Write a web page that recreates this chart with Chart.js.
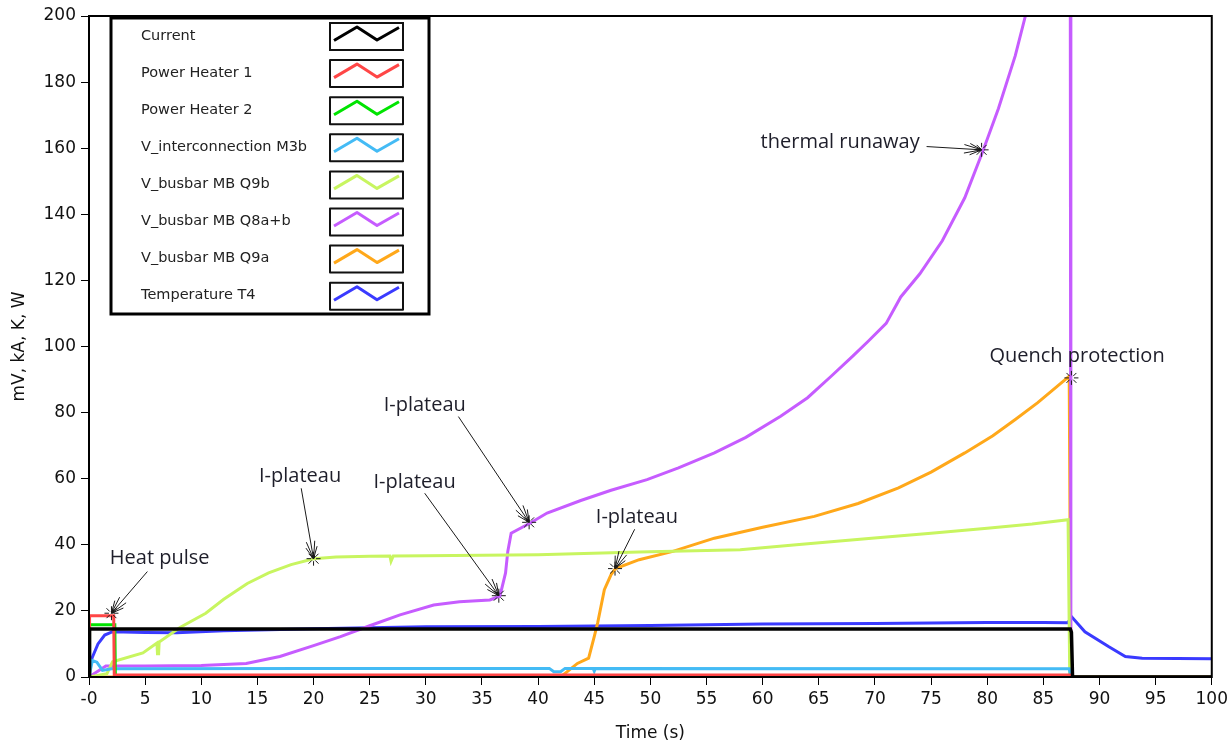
<!DOCTYPE html>
<html lang="en">
<head>
<meta charset="UTF-8">
<title>Busbar quench test</title>
<script src="https://cdn.jsdelivr.net/npm/chart.js@4"></script>
<style>
  body { margin: 0; background: #fff; }
  #wrap { width: 1232px; height: 745px; }
</style>
</head>
<body>
<div id="wrap"><canvas id="quenchChart" width="1232" height="745"></canvas></div>
<script>
// time (s) / value pairs for each channel
const curT = [0, 0.05, 87.4, 87.5, 87.6, 100];
const curV = [0, 14.5, 14.5, 13.5, 0, 0];

const h1T = [0, 0.05, 2.2, 2.25, 87.4, 87.5, 100];
const h1V = [0, 18.5, 18.5, 0.6, 0.6, 0, 0];

const h2T = [0, 0.05, 2.3, 2.35, 100];
const h2V = [0, 15.8, 15.8, 0, 0];

const icT = [0, 0.3, 0.7, 1.2, 2, 20, 41, 41.4, 42, 42.4, 44.9, 45, 45.1, 87.3, 87.45, 100];
const icV = [0, 5, 4.5, 2, 2.5, 2.6, 2.6, 1.6, 1.6, 2.6, 2.6, 1.8, 2.6, 2.5, 0, 0];

const q9bT = [0, 1.6, 2.1, 4.8, 6.05, 6.1, 6.2, 6.25, 8.1, 10.4, 12, 14.1, 16, 18, 20, 22, 25, 26.8, 26.9, 27.1, 30, 40, 49, 58, 63, 69.7, 75, 80, 84, 87.2, 87.35, 100];
const q9bV = [0, 1, 4.6, 7.3, 10.3, 7, 7, 10.6, 15, 19.3, 23.5, 28.3, 31.5, 34, 35.8, 36.3, 36.5, 36.6, 35, 36.6, 36.7, 37, 37.8, 38.5, 40, 42, 43.5, 45, 46.3, 47.6, 0, 0];

// goes off scale above 200 between ~83 s and the protection trigger
const q8T = [0, 1.5, 5, 10, 14, 17, 20, 22.4, 25, 27.7, 30.7, 33, 35.7, 36.6, 37.1, 37.3, 37.6, 39.3, 40.8, 43.8, 46.5, 49.7, 52.5, 55.7, 58.5, 61.6, 64, 66.1, 68, 69.4, 71, 72.3, 74, 76, 78, 79.6, 81, 82.5, 83.4, 85.4, 87.4, 87.45, 100];
const q8V = [0, 3.3, 3.3, 3.5, 4.1, 6.2, 9.5, 12.2, 15.5, 18.8, 21.8, 22.8, 23.3, 24.5, 31.5, 38, 43.5, 46.6, 49.6, 53.4, 56.5, 59.7, 63.3, 67.8, 72.5, 78.9, 84.5, 91, 97, 101.6, 107, 115, 122, 132, 145, 159, 172, 188, 200, null, 200, 0, 0];

const q9aT = [0, 42, 42.4, 43.5, 44.5, 45, 45.3, 45.9, 46.5, 46.9, 49, 52, 55.7, 60, 64.6, 68.5, 72.1, 75, 78, 80.5, 82.5, 84.5, 86.6, 87.3, 87.45, 100];
const q9aV = [0, 0, 1.1, 4.1, 5.7, 12.2, 16.3, 26.4, 31, 32.8, 35.5, 38, 42, 45.3, 48.6, 52.5, 57.2, 62, 67.8, 73, 77.9, 83, 89, 91, 0, 0];

const t4T = [0, 0.3, 0.8, 1.4, 2.1, 5, 7.8, 12, 20, 30, 40, 50, 60, 70, 80, 85, 87.2, 87.5, 88.7, 90.8, 92.3, 93.8, 100];
const t4V = [2.7, 6, 10, 12.7, 13.7, 13.5, 13.4, 14, 14.6, 15.2, 15.3, 15.6, 16, 16.2, 16.5, 16.5, 16.4, 18.3, 13.7, 9.2, 6.2, 5.7, 5.5];

const seriesNames = ['Current', 'Power Heater 1', 'Power Heater 2', 'V_interconnection M3b',
  'V_busbar MB Q9b', 'V_busbar MB Q8a+b', 'V_busbar MB Q9a', 'Temperature T4'];
const seriesT = [curT, h1T, h2T, icT, q9bT, q8T, q9aT, t4T];
const seriesV = [curV, h1V, h2V, icV, q9bV, q8V, q9aV, t4V];
const seriesColors = ['#000000', '#ff4646', '#00e400', '#44bbf5', '#c8f560', '#c65cff', '#ffa81a', '#3a3aff'];
const seriesWidths = [3.5, 3, 3, 3, 3, 3, 3, 3];

const xTicksStep = 5;
const yTicksStep = 20;

// annotations: [label, marked point (t, v), text centre (t, v), arrow tail (t, v)]
const noteText = ['Heat pulse', 'I-plateau', 'I-plateau', 'I-plateau', 'I-plateau', 'thermal runaway', 'Quench protection'];
const notePoint = [[2, 19.3], [20, 35.8], [36.5, 24.6], [39.2, 46.8], [46.85, 32.8], [79.5, 159.5], [87.5, 90.5]];
const noteLabel = [[6.3, 36], [18.8, 60.8], [29, 59], [29.9, 82.3], [48.8, 48.4], [66.9, 161.9], [88, 97.1]];
const noteTail = [[5.2, 31.9], [18.9, 57.1], [29.9, 55.6], [32.9, 78.8], [48.6, 44.7], [74.6, 160.5], null];

const toPts = (ts, vs) => ts.map((t, i) => ({ x: t, y: vs[i] }));

const framePlugin = {
  id: 'frame',
  afterDatasetsDraw(chart) {
    const { ctx, chartArea: a } = chart;
    ctx.save();
    ctx.strokeStyle = '#000';
    ctx.lineWidth = 2;
    ctx.strokeRect(a.left, a.top, a.right - a.left, a.bottom - a.top);
    ctx.restore();
  }
};

function drawStar(ctx, x, y) {
  ctx.beginPath();
  for (let k = 0; k < 8; k++) {
    const ang = k * Math.PI / 4;
    ctx.moveTo(x + Math.cos(ang) * 2.5, y + Math.sin(ang) * 2.5);
    ctx.lineTo(x + Math.cos(ang) * 7, y + Math.sin(ang) * 7);
  }
  ctx.stroke();
}

function drawArrow(ctx, x0, y0, x1, y1) {
  ctx.beginPath();
  ctx.moveTo(x0, y0);
  ctx.lineTo(x1, y1);
  const ang = Math.atan2(y1 - y0, x1 - x0);
  [[0.24, 18], [-0.24, 18], [0.45, 13], [-0.45, 13]].forEach(([da, len]) => {
    ctx.moveTo(x1, y1);
    ctx.lineTo(x1 - Math.cos(ang + da) * len, y1 - Math.sin(ang + da) * len);
  });
  ctx.stroke();
  ctx.beginPath();
  ctx.arc(x1 - Math.cos(ang) * 2, y1 - Math.sin(ang) * 2, 2, 0, Math.PI * 2);
  ctx.fill();
}

const notesPlugin = {
  id: 'notes',
  afterDatasetsDraw(chart) {
    const { ctx, scales: { x, y } } = chart;
    ctx.save();
    ctx.strokeStyle = '#1a1a1a';
    ctx.fillStyle = '#1a1a1a';
    ctx.lineWidth = 1;
    noteText.forEach((txt, i) => {
      const px = x.getPixelForValue(notePoint[i][0]);
      const py = y.getPixelForValue(notePoint[i][1]);
      if (noteTail[i]) {
        drawArrow(ctx, x.getPixelForValue(noteTail[i][0]), y.getPixelForValue(noteTail[i][1]), px, py);
      }
      drawStar(ctx, px, py);
    });
    ctx.fillStyle = '#1e1e2a';
    ctx.font = '20px "Open Sans"';
    ctx.textAlign = 'center';
    ctx.textBaseline = 'middle';
    noteText.forEach((txt, i) => {
      ctx.fillText(txt, x.getPixelForValue(noteLabel[i][0]), y.getPixelForValue(noteLabel[i][1]));
    });
    ctx.restore();
  }
};

// boxed legend with zig-zag samples, sitting inside the plot
const legendPlugin = {
  id: 'boxLegend',
  afterDraw(chart) {
    const { ctx, chartArea: a } = chart;
    const bx = a.left + 22, by = a.top + 2, bw = 318, bh = 296;
    ctx.save();
    ctx.fillStyle = '#fff';
    ctx.fillRect(bx, by, bw, bh);
    ctx.strokeStyle = '#000';
    ctx.lineWidth = 3;
    ctx.strokeRect(bx, by, bw, bh);
    ctx.font = '14.5px "DejaVu Sans"';
    ctx.textBaseline = 'middle';
    ctx.textAlign = 'left';
    seriesNames.forEach((name, i) => {
      const cy = by + 18 + i * 37.1;
      ctx.fillStyle = '#222';
      ctx.fillText(name, bx + 30, cy);
      const sx = bx + 219, sy = cy - 13, sw = 73, sh = 27;
      ctx.lineWidth = 2;
      ctx.strokeStyle = '#111';
      ctx.strokeRect(sx, sy, sw, sh);
      ctx.lineWidth = 3;
      ctx.strokeStyle = seriesColors[i];
      ctx.lineJoin = 'round';
      ctx.beginPath();
      ctx.moveTo(sx + 4, sy + 17.5);
      ctx.lineTo(sx + 27, sy + 4);
      ctx.lineTo(sx + 47, sy + 17);
      ctx.lineTo(sx + 69, sy + 4.5);
      ctx.stroke();
    });
    ctx.restore();
  }
};

const tickFont = { family: 'DejaVu Sans', size: 17 };
const titleFont = { family: 'DejaVu Sans', size: 17 };

new Chart(document.getElementById('quenchChart'), {
  type: 'line',
  data: {
    datasets: seriesNames.map((name, i) => ({
      label: name,
      data: toPts(seriesT[i], seriesV[i]),
      borderColor: seriesColors[i],
      backgroundColor: seriesColors[i],
      borderWidth: seriesWidths[i],
      pointRadius: 0,
      tension: 0,
      fill: false
    }))
  },
  options: {
    responsive: false,
    animation: false,
    events: [],
    layout: { padding: { top: 16, right: 20, left: 0, bottom: 0 } },
    plugins: { legend: { display: false }, tooltip: { enabled: false } },
    scales: {
      x: {
        type: 'linear',
        min: 0,
        max: 100,
        afterFit: s => { s.height = 68; },
        grid: { drawOnChartArea: false, drawTicks: true, tickLength: 8, color: '#000' },
        border: { display: false },
        ticks: {
          stepSize: xTicksStep,
          color: '#111',
          font: tickFont,
          padding: 4,
          maxRotation: 0,
          callback: v => (v === 0 ? '-0' : v)
        },
        title: { display: true, text: 'Time (s)', color: '#111', font: titleFont, padding: { top: 0, bottom: 1 } }
      },
      y: {
        min: 0,
        max: 200,
        afterFit: s => { s.width = 89; },
        grid: { drawOnChartArea: false, drawTicks: true, tickLength: 8, color: '#000' },
        border: { display: false },
        ticks: { stepSize: yTicksStep, color: '#111', font: tickFont, padding: 5 },
        title: { display: true, text: 'mV, kA, K, W', color: '#111', font: titleFont, padding: { top: 9, bottom: 0 } }
      }
    }
  },
  plugins: [framePlugin, notesPlugin, legendPlugin]
});
</script>
</body>
</html>
